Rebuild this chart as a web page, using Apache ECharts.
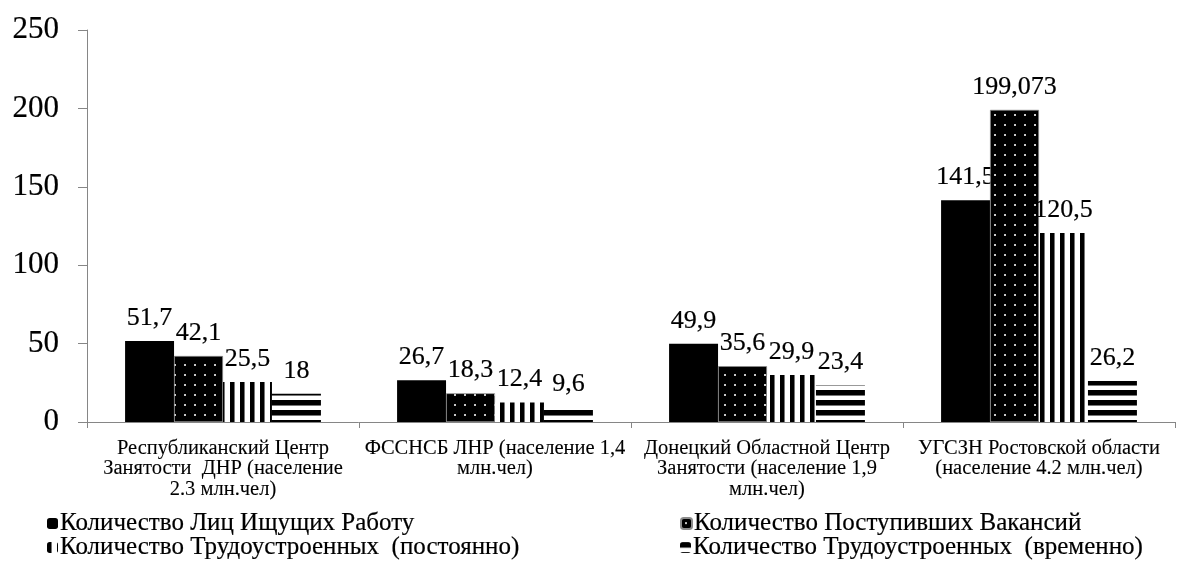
<!DOCTYPE html>
<html>
<head>
<meta charset="utf-8">
<script src="https://cdn.jsdelivr.net/npm/echarts@6.0.0/dist/echarts.min.js"></script>
<style>
  html, body { margin: 0; padding: 0; background: #fff; overflow: hidden; }
  #chart { width: 1187px; height: 567px; }
</style>
</head>
<body>
<div id="chart"></div>
<script>
// Categories (employment services) and the four series
const categories = [
  'Республиканский Центр\nЗанятости  ДНР (население\n2.3 млн.чел)',
  'ФССНСБ ЛНР (население 1,4\nмлн.чел)',
  'Донецкий Областной Центр\nЗанятости (население 1,9\nмлн.чел)',
  'УГСЗН Ростовской области\n(население 4.2 млн.чел)'
];
const seriesNames = [
  'Количество Лиц Ищущих Работу',
  'Количество Поступивших Вакансий',
  'Количество Трудоустроенных  (постоянно)',
  'Количество Трудоустроенных  (временно)'
];
const seekers   = [51.7, 26.7, 49.9, 141.5];
const vacancies = [42.1, 18.3, 35.6, 199.073];
const permanent = [25.5, 12.4, 29.9, 120.5];
const temporary = [18, 9.6, 23.4, 26.2];
const yTicks = [0, 50, 100, 150, 200, 250];

function makePattern(w, h, draw) {
  const c = document.createElement('canvas');
  c.width = w; c.height = h;
  const ctx = c.getContext('2d');
  draw(ctx, w, h);
  return { image: c, repeat: 'repeat' };
}
// Fills: solid, dotted, vertical stripes, horizontal stripes
const solid = '#000';
const dots = makePattern(10, 10, (ctx, w, h) => {
  ctx.fillStyle = '#000'; ctx.fillRect(0, 0, w, h);
  ctx.fillStyle = '#c8c8c8'; ctx.fillRect(4, 4, 2, 2);
});
const vStripes = makePattern(10, 10, (ctx, w, h) => {
  ctx.fillStyle = '#fff'; ctx.fillRect(0, 0, w, h);
  ctx.fillStyle = '#000'; ctx.fillRect(0, 0, 4, h);
  ctx.fillStyle = '#777'; ctx.fillRect(4, 0, 1, h);
});
const hStripes = makePattern(10, 10, (ctx, w, h) => {
  ctx.fillStyle = '#fff'; ctx.fillRect(0, 0, w, h);
  ctx.fillStyle = '#000'; ctx.fillRect(0, 0, w, 5);
  ctx.fillStyle = '#777'; ctx.fillRect(0, 5, w, 1);
});

const FONT = "'Liberation Serif', 'Times New Roman', serif";
const INK = { color: '#000', textBorderColor: '#000', textBorderWidth: 0.2 };
const fills = [solid, dots, vStripes, hStripes];
const values = [seekers, vacancies, permanent, temporary];

const series = seriesNames.map((name, i) => ({
  name: name,
  type: 'bar',
  z: 2 + i,
  barGap: '0%',
  barCategoryGap: '28%',
  data: values[i],
  itemStyle: {
    color: fills[i],
    borderColor: i === 1 ? '#8c8c8c' : 'transparent',
    borderWidth: i === 1 ? 0.7 : 0
  },
  label: Object.assign({
    show: true,
    position: 'top',
    distance: 10,
    fontSize: 26,
    fontFamily: FONT,
    formatter: p => String(p.value).replace('.', ',')
  }, INK)
}));

// One legend block per entry, laid out as two rows of two
const legendPos = [[47, 511], [680, 511], [47, 535], [680, 535]];
const legends = seriesNames.map((name, i) => ({
  data: [name],
  left: legendPos[i][0],
  top: legendPos[i][1],
  padding: 0,
  itemWidth: 11,
  itemHeight: 11,
  itemGap: 0,
  selectedMode: false,
  textStyle: Object.assign({ fontSize: 25, fontFamily: FONT, padding: [0, 0, 0, -3] }, INK)
}));

const chart = echarts.init(document.getElementById('chart'), null, { renderer: 'canvas' });
chart.setOption({
  animation: false,
  backgroundColor: '#fff',
  grid: { left: 87, right: 12, top: 30, bottom: 145, containLabel: false },
  legend: legends,
  xAxis: {
    type: 'category',
    data: categories,
    axisLine: { lineStyle: { color: '#868686', width: 1 } },
    axisTick: { show: true, length: 6, alignWithLabel: false, lineStyle: { color: '#868686' } },
    axisLabel: { interval: 0, fontSize: 20.5, lineHeight: 20.5, fontFamily: FONT, margin: 16,
      color: '#000', textBorderColor: '#000', textBorderWidth: 0.1 }
  },
  yAxis: {
    type: 'value',
    min: yTicks[0],
    max: yTicks[yTicks.length - 1],
    interval: yTicks[1] - yTicks[0],
    axisLine: { show: true, lineStyle: { color: '#868686', width: 1 } },
    axisTick: { show: true, length: 9, lineStyle: { color: '#868686' } },
    splitLine: { show: false },
    axisLabel: Object.assign({ fontSize: 31, fontFamily: FONT, margin: 28 }, INK)
  },
  series: series
});
</script>
</body>
</html>
